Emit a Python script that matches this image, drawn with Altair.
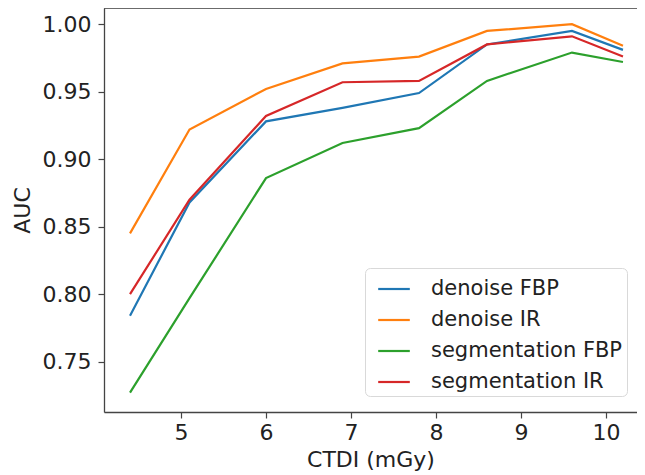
import altair as alt
import pandas as pd

ctdi = [4.4, 5.1, 6.0, 6.9, 7.8, 8.6, 9.6, 10.2]
denoise_fbp = [0.784, 0.868, 0.928, 0.938, 0.949, 0.985, 0.995, 0.981]
denoise_ir = [0.845, 0.922, 0.952, 0.971, 0.976, 0.995, 1.000, 0.984]
seg_fbp = [0.727, 0.797, 0.886, 0.912, 0.923, 0.958, 0.979, 0.972]
seg_ir = [0.800, 0.870, 0.932, 0.957, 0.958, 0.985, 0.991, 0.976]

series_names = ["denoise FBP", "denoise IR", "segmentation FBP", "segmentation IR"]
series_vals = [denoise_fbp, denoise_ir, seg_fbp, seg_ir]
colors = ["#1f77b4", "#ff7f0e", "#2ca02c", "#d62728"]
x_ticks = [5, 6, 7, 8, 9, 10]
y_ticks = [0.75, 0.80, 0.85, 0.90, 0.95, 1.00]

rows = []
for name, vals in zip(series_names, series_vals):
    for xv, yv in zip(ctdi, vals):
        rows.append({"CTDI": xv, "AUC": yv, "series": name})
df = pd.DataFrame(rows)

W, H = 533, 404
FONT = "DejaVu Sans"
TXT = "#222222"
SPINE = "#444444"

lines = alt.Chart(df).mark_line(strokeWidth=2.2, clip=True).encode(
    x=alt.X("CTDI:Q",
            scale=alt.Scale(domain=[4.094, 10.365], nice=False, zero=False),
            axis=alt.Axis(values=x_ticks, format="d", title="CTDI (mGy)", grid=False,
                          tickSize=6, labelPadding=4, titlePadding=6,
                          domainColor=SPINE, tickColor=SPINE, domainWidth=1.3, tickWidth=1.2,
                          labelFontSize=22, titleFontSize=22, labelFont=FONT, titleFont=FONT,
                          labelColor=TXT, titleColor=TXT, titleFontWeight="normal")),
    y=alt.Y("AUC:Q",
            scale=alt.Scale(domain=[0.7127, 1.012], nice=False, zero=False),
            axis=alt.Axis(values=y_ticks, format=".2f", title="AUC", grid=False,
                          tickSize=6, labelPadding=7, titlePadding=8,
                          domainColor=SPINE, tickColor=SPINE, domainWidth=1.3, tickWidth=1.2,
                          labelFontSize=22, titleFontSize=22, labelFont=FONT, titleFont=FONT,
                          labelColor=TXT, titleColor=TXT, titleFontWeight="normal")),
    color=alt.Color("series:N",
                    scale=alt.Scale(domain=series_names, range=colors),
                    legend=alt.Legend(title=None, orient="none", legendX=261, legendY=260,
                                      symbolType="stroke", symbolSize=1000, symbolStrokeWidth=2.2,
                                      symbolOffset=8,
                                      labelFontSize=21, labelFont=FONT, labelColor=TXT,
                                      labelLimit=400, labelOffset=20, rowPadding=4, padding=4,
                                      cornerRadius=5, strokeColor="#d9d9d9",
                                      fillColor="rgba(255,255,255,0.8)")),
)

top_spine = alt.Chart(pd.DataFrame({"a": [0]})).mark_rule(color=SPINE, strokeWidth=1.3).encode(
    x=alt.value(0), x2=alt.value(W), y=alt.value(0)
)

chart = alt.layer(lines, top_spine).properties(
    width=W, height=H,
    autosize=alt.AutoSizeParams(type="none"),
    padding={"left": 96, "top": 0, "right": 0, "bottom": 62},
).configure_view(stroke=None).configure(background="white")

chart.save("out.html", embed_options={"renderer": "svg", "actions": False})
